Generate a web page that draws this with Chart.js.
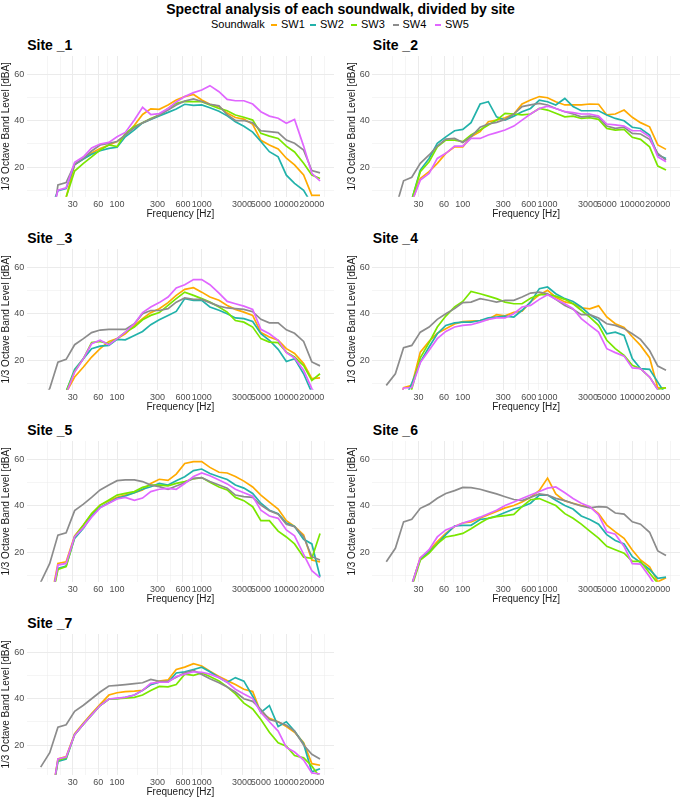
<!DOCTYPE html>
<html>
<head>
<meta charset="utf-8">
<script src="https://cdn.jsdelivr.net/npm/chart.js@4/dist/chart.umd.min.js"></script>
<style>
  body { margin: 0; background: #fff; font-family: "Liberation Sans", Arial, sans-serif; }
  #page { position: relative; width: 681px; height: 799px; overflow: hidden; background: #fff; }
  .title { position: absolute; left: 0; top: 1px; width: 681px; text-align: center; font-weight: bold; font-size: 14px; line-height: 16px; color: #000; }
  .leg { position: absolute; top: 18px; font-size: 11px; line-height: 13px; color: #000; white-space: nowrap; }
  .key { position: absolute; top: 24px; width: 6px; height: 2px; }
  .strip { position: absolute; font-weight: bold; font-size: 14px; line-height: 16px; color: #000; white-space: nowrap; }
  canvas { position: absolute; }
</style>
</head>
<body>
<div id="page">
  <div class="title">Spectral analysis of each soundwalk, divided by site</div>
</div>
<script>
// 1/3 octave band centre frequencies [Hz]
const freqs = [12.5, 16, 20, 25, 31.5, 40, 50, 63, 80, 100, 125, 160, 200, 250, 315, 400, 500,
  630, 800, 1000, 1250, 1600, 2000, 2500, 3150, 4000, 5000, 6300, 8000, 10000, 12500, 16000, 20000, 25000];

const seriesNames = ['SW1', 'SW2', 'SW3', 'SW4', 'SW5'];
const seriesColors = ['#FFAA00', '#22B2AA', '#7AE600', '#8C8C8C', '#E066FF'];

const xMajor = [30, 60, 100, 300, 600, 1000, 3000, 5000, 10000, 20000];
const xMinor = [15, 21.2, 42.4, 77.5, 173.2, 424.3, 774.6, 1732, 3873, 7071, 14142, 28284];
const yMajor = [20, 40, 60];
const yMinor = [10, 30, 50];

// band levels [dBA], one array per site and soundwalk
const s1_sw1 = [-10, -8, -2, 7, 21, 23.5, 26, 28, 29.5, 31, 33.5, 38, 42.6, 45, 44.8, 46.7, 48.8, 50.3, 51.2, 48.8, 47, 46, 43.2, 41.3, 40.6, 38.4, 31.5, 29.5, 27.8, 23.8, 20.9, 16.6, 7.8, 7.8];
const s1_sw2 = [-12, 1, 9.8, 10.8, 21.1, 23.5, 25.5, 27, 28, 28.5, 33, 36, 39, 40.5, 42, 43.5, 45, 47, 46.5, 46.7, 45.5, 44, 42, 39.5, 37.5, 35, 31, 26.6, 24.4, 16.5, 13, 10, 4, 0];
const s1_sw3 = [-15, -10, -3, 7, 18.3, 21.6, 24.4, 27.3, 29.5, 28.8, 34.5, 37.4, 39, 40.9, 42.4, 45.2, 47.4, 48.2, 48.1, 48.1, 46.7, 45.2, 44.2, 42.4, 41.4, 40.2, 34.5, 33.3, 32.3, 29, 26.5, 21.6, 16.6, 15.1];
const s1_sw4 = [-18, -13, 12.3, 13.3, 21.3, 23.7, 26.9, 29.5, 30.2, 31, 33.8, 36.9, 39, 40.6, 42.4, 44.5, 46.7, 48.4, 49.3, 48.2, 47, 46.3, 42.5, 40, 40, 39, 35.6, 35.2, 34.8, 31.6, 30.2, 27.3, 18.5, 17.5];
const s1_sw5 = [-15, -5, 10.1, 11.1, 22, 24.4, 28.2, 29.9, 30.6, 33, 34.9, 40.2, 45.7, 42.6, 43, 45.2, 48, 50.3, 52, 53.1, 55, 52.4, 49.1, 48.5, 48.5, 47.1, 43.8, 41.9, 41, 38.8, 40.5, 29, 17.3, 14];

const s2_sw1 = [-15, -10, -3, 5, 15.1, 18, 21.6, 25.9, 28.7, 28.7, 33, 35.2, 39.5, 40.2, 41.2, 42.8, 47.1, 48.8, 50.3, 49.8, 48.1, 46.7, 46.7, 46.7, 47.1, 47, 42.4, 42.8, 44.5, 41.4, 39.1, 37.3, 29.5, 27.6];
const s2_sw2 = [-15, -8, -2, 6, 18.7, 23.7, 30.2, 33, 35.6, 36.2, 39.1, 47.1, 48.1, 41.6, 40.2, 41.9, 43.8, 45.2, 48.8, 48.1, 46.7, 49.5, 46, 44.2, 44.2, 44.2, 42.4, 40.9, 39.9, 37.1, 36.6, 33.8, 25.2, 23.7];
const s2_sw3 = [-15, -8, -2, 6, 18, 22.3, 28.7, 31.6, 31.6, 30.9, 33.8, 35.9, 38.1, 40.2, 43.1, 42.8, 42.4, 42.8, 45.2, 44.5, 43.1, 41.6, 41.9, 40.9, 41.2, 40.5, 36.6, 35.9, 36.2, 32.8, 31.9, 28.7, 20.4, 18.7];
const s2_sw4 = [-10, 2, 14.1, 15.6, 21.6, 25.2, 29, 32, 32.3, 30.6, 33, 37.1, 38.5, 39.2, 40.5, 42.8, 46, 46.7, 47.4, 46.7, 45.2, 43.8, 42.8, 41.6, 41.9, 41.4, 37.6, 36.6, 37.1, 34.5, 34.2, 31.9, 25.9, 23];
const s2_sw5 = [-15, -8, -2, 5, 14.4, 17.3, 23.7, 25.9, 29, 29, 32.3, 32.3, 33.8, 34.8, 35.9, 37.6, 40.2, 42.8, 45.2, 46.2, 45.2, 43.8, 43.4, 42.8, 42.8, 41.9, 38.5, 38.1, 37.6, 35.6, 35.6, 33, 24.4, 22.3];

const s3_sw1 = [-15, -8, -2, 6, 12.7, 17, 21.3, 24.9, 28, 29.2, 31.3, 34.9, 37.8, 40.4, 42.1, 44.7, 47.8, 50.4, 51.1, 49.2, 47.1, 45.7, 43.5, 41.8, 40.6, 39.2, 31.8, 29.9, 28.5, 24.9, 22.8, 18.5, 12, 12.3];
const s3_sw2 = [-15, -8, -2, 6.5, 16, 20.6, 24.9, 26, 26.3, 28.9, 28.7, 30.6, 32.3, 35.2, 37.3, 39.2, 40.9, 46.4, 45.7, 45.7, 42.8, 41.4, 39.9, 38.1, 37.8, 36.6, 31.3, 28.5, 24.6, 19.4, 20.6, 14.1, 6, 3];
const s3_sw3 = [-15, -8, -2, 6.5, 15.1, 20.6, 27.5, 28, 27, 29.2, 32, 34.2, 37.3, 39.2, 40.4, 43.5, 46.4, 49.2, 47.8, 46.4, 44.9, 42.8, 40.6, 37, 36.3, 34.2, 29.2, 27.7, 27.5, 23.4, 21.3, 17.6, 11.2, 14.1];
const s3_sw4 = [0, 7.8, 19.1, 20.3, 26.6, 29.2, 31.8, 32.9, 33.2, 33.2, 33.2, 35.6, 39.9, 41.3, 41.3, 42.1, 44.9, 46.7, 46.1, 46.1, 44.7, 43.2, 42.4, 42.1, 41.8, 40.8, 37.5, 36, 36, 33, 31.5, 28, 19.2, 17.5];
const s3_sw5 = [-15, -8, -2, 5.5, 14.8, 20.6, 27, 28.5, 26.6, 29.2, 32, 35.6, 40.4, 42.8, 44.7, 47.1, 51, 52.4, 54.6, 54.6, 52.4, 48.8, 45.2, 44.2, 43.2, 41.8, 33.2, 31.3, 28.5, 23.2, 20.9, 15.6, 7.7, 3];

const s4_sw1 = [-5, -2, 8.1, 9.1, 23.4, 28, 31.5, 33.5, 35.5, 36.5, 36.7, 37, 37.5, 39.5, 39, 40.5, 41, 45, 48, 50, 47, 45, 44.2, 42.5, 42, 43.3, 38.5, 35.6, 34, 30, 26.3, 21, 8, 8];
const s4_sw2 = [-10, -5, 2, 10, 19.1, 25.6, 31.3, 34.9, 36, 36.3, 36.3, 37, 38.1, 38.5, 38.9, 38.5, 41.4, 44.9, 50.7, 51.4, 48.5, 46.4, 45.2, 42.8, 39.5, 37, 31.3, 32, 30.6, 20.6, 16.3, 16, 10.5, 5];
const s4_sw3 = [-15, -10, -3, 7.5, 21, 27.5, 34.2, 38.9, 42.8, 45.2, 49.5, 48.5, 47.5, 46.4, 44.9, 44.2, 44.2, 46.6, 48.1, 48.1, 47.5, 46.1, 44.2, 41.4, 38.5, 34.9, 28.5, 24.9, 22, 17.7, 16.3, 12.7, 7.4, 8.1];
const s4_sw4 = [9.1, 14.1, 25.3, 26.3, 32, 34.2, 37.5, 39.9, 42.1, 44.7, 44.9, 46.4, 45.7, 44.9, 45.7, 45.7, 47.1, 48.8, 49.2, 48.5, 46.1, 43.5, 41.8, 39.5, 39.5, 38.1, 35.6, 34.9, 33.5, 31.3, 28.9, 24.1, 17.4, 15.6];
const s4_sw5 = [-10, -3, 8, 8.2, 18.9, 24.2, 29.2, 32.3, 34.2, 34.9, 35.2, 36.3, 37.5, 38.1, 38.1, 39.9, 42.8, 43.5, 46.1, 48.1, 46.1, 44.2, 42.1, 37.8, 34.9, 32, 24.9, 23.2, 21.7, 16.6, 16.3, 12.7, 7.2, 4];

const s5_sw1 = [-10, -3, 15.1, 15.8, 26.9, 31.6, 36.3, 40.2, 42.1, 43.5, 44.5, 45.5, 46.7, 49.5, 51.3, 50.8, 53.5, 58.1, 58.9, 58.9, 56.4, 54.3, 54, 52.5, 50.5, 48, 44.5, 41.5, 38.5, 33.5, 31, 27.3, 16.6, 15.8];
const s5_sw2 = [-10, -3, 13, 14, 25.9, 30.2, 35.5, 39.2, 41.2, 43.1, 44.1, 45.5, 47, 48.1, 49.5, 48.8, 50.7, 52.4, 55, 55.7, 53.8, 52.4, 51.2, 48.8, 47.5, 45.2, 41, 38, 36.5, 32.5, 31, 25.5, 23.5, 9.4];
const s5_sw3 = [-12, -5, 12.5, 13.7, 26.6, 31.6, 36.6, 40.2, 42.4, 44.5, 45.2, 46, 47.8, 48.8, 48.8, 48.5, 49.5, 50.3, 51.5, 52, 50, 48, 46.7, 43.5, 42.1, 39.5, 33.5, 33.5, 29, 26.5, 23.5, 17.8, 17.3, 28];
const s5_sw4 = [7, 15.1, 27.3, 28.3, 37.8, 40.6, 43.5, 46.7, 48.8, 50.7, 51, 51, 50.3, 48.8, 48.1, 47, 48.4, 49.8, 51.7, 52, 50.3, 48.8, 47.4, 44.5, 43.8, 43.5, 40.2, 37.8, 36.3, 32, 30.9, 26.6, 18, 16.6];
const s5_sw5 = [-12, -5, 14.4, 15.1, 26.6, 30.5, 35, 39, 41, 42.8, 43.5, 42.2, 43.2, 46, 47, 47.4, 47, 49.5, 52.5, 54, 52.8, 51, 49.3, 47, 45.5, 44, 38, 35.5, 34.5, 29.5, 27, 19, 12, 9];

const s6_sw1 = [-15, -10, -5, 6, 17.5, 20.5, 24.5, 28, 31, 32.5, 33, 34.5, 36, 37.5, 39, 40, 41.5, 43.5, 46.5, 51.8, 45, 42, 41, 40, 39.5, 36.5, 31.6, 28.7, 25.9, 20.9, 16.6, 13.7, 7.2, 9];
const s6_sw2 = [-15, -10, -5, 6, 17, 20, 23.5, 27.5, 31.2, 31.5, 31.5, 34, 34.5, 35.5, 37, 38.5, 39.5, 41, 44.5, 44.5, 42.3, 40, 38.5, 35.5, 34, 32, 27.5, 25, 23.5, 18, 15.5, 12.5, 8.7, 9.2];
const s6_sw3 = [-15, -10, -5, 5, 16.5, 19.5, 23.5, 26.5, 27.2, 28, 30, 32.5, 34.5, 35.2, 35.7, 36.2, 39.5, 42.5, 43, 41.5, 40, 36.5, 34.5, 32, 29, 26, 22.5, 21, 19.5, 16, 16, 11, 6.5, 5];
const s6_sw4 = [15.8, 21.6, 33, 34.1, 38.8, 40.6, 43.1, 45.2, 46.4, 47.8, 47.7, 47, 46, 45, 43.8, 42.6, 42.1, 43.5, 45, 44.5, 43.1, 42.1, 40.9, 39.8, 39, 39.5, 39.3, 36.8, 36.3, 33, 32, 28.5, 20.5, 18.5];
const s6_sw5 = [-15, -10, -5, 6, 17.5, 21, 26.5, 29.5, 31, 32.5, 33.5, 35, 36.5, 38, 40, 41.5, 43, 44.5, 46, 47.5, 48, 45.5, 43, 41, 39.5, 36, 28.7, 27.7, 22.4, 15, 14.8, 9.4, 4, 2];

const s7_sw1 = [-15, -8, 14, 15, 24.9, 29.5, 33.5, 37.5, 41.5, 42.5, 43, 43.2, 43.5, 46, 47.5, 48, 52.5, 53.5, 55, 54, 51.7, 49.5, 47.7, 46, 44, 43, 34, 31.5, 30, 28, 25.5, 21, 12, 11.3];
const s7_sw2 = [-15, -8, 13, 14, 24.5, 29, 33, 37, 39.8, 40, 40.5, 41.5, 43.5, 46, 47, 47, 51, 51.5, 52.5, 53.5, 51.5, 49, 47, 49, 47.5, 41, 34, 37, 28, 30, 26, 20.5, 8.5, 9.8];
const s7_sw3 = [-15, -8, 13.5, 14.5, 24.5, 29, 33, 37, 39.8, 40, 40.2, 40.5, 41.5, 43.5, 45.2, 45, 46, 50.5, 50, 51, 49.5, 47.5, 45, 42, 38, 35.5, 31, 25.5, 21, 19.5, 15.5, 14.5, 11, 6];
const s7_sw4 = [10.5, 16.7, 27.7, 28.7, 34.5, 37.1, 39.9, 42.8, 45.4, 45.7, 46, 46.4, 46.8, 48.2, 47.4, 47.4, 49.2, 51.1, 52.1, 50.3, 48.5, 46.8, 45, 42.8, 39.9, 38.8, 35.3, 31, 29.9, 28.5, 26, 20, 16, 14];
const s7_sw5 = [-15, -8, 14, 14.8, 24.5, 29, 33, 37, 39.8, 40.2, 40.5, 41.5, 43.5, 46.5, 47, 47, 49.5, 50.5, 51.5, 51.3, 50.5, 49, 47, 44, 42, 40, 34, 30, 26, 19, 17, 13.5, 8, 7.5];

const siteNames = ['Site _1', 'Site _2', 'Site _3', 'Site _4', 'Site _5', 'Site _6', 'Site _7'];
const siteSeries = [
  [s1_sw1, s1_sw2, s1_sw3, s1_sw4, s1_sw5],
  [s2_sw1, s2_sw2, s2_sw3, s2_sw4, s2_sw5],
  [s3_sw1, s3_sw2, s3_sw3, s3_sw4, s3_sw5],
  [s4_sw1, s4_sw2, s4_sw3, s4_sw4, s4_sw5],
  [s5_sw1, s5_sw2, s5_sw3, s5_sw4, s5_sw5],
  [s6_sw1, s6_sw2, s6_sw3, s6_sw4, s6_sw5],
  [s7_sw1, s7_sw2, s7_sw3, s7_sw4, s7_sw5]
];

Chart.defaults.font.family = '"Liberation Sans", Arial, sans-serif';

const page = document.getElementById('page');

// legend row
const legendTitle = document.createElement('div');
legendTitle.className = 'leg';
legendTitle.style.left = '211px';
legendTitle.textContent = 'Soundwalk';
page.appendChild(legendTitle);
const keyLeft = [271, 310, 351, 392.5, 435];
seriesNames.forEach((name, k) => {
  const key = document.createElement('div');
  key.className = 'key';
  key.style.left = keyLeft[k] + 'px';
  key.style.background = seriesColors[k];
  page.appendChild(key);
  const lab = document.createElement('div');
  lab.className = 'leg';
  lab.style.left = (keyLeft[k] + 10) + 'px';
  lab.textContent = name;
  page.appendChild(lab);
});

// facet layout
const colLeft = [0, 346];
const axisW = [26.7, 26.3];
const rowTop = [56, 249, 441, 634];
const canvasW = 334, canvasH = 165, xAxisH = 24.3;

const xTicks = xMinor.concat(xMajor).sort((a, b) => a - b);
const yTicks = yMinor.concat(yMajor).sort((a, b) => a - b);

siteNames.forEach((name, s) => {
  const col = s % 2, row = Math.floor(s / 2);

  const strip = document.createElement('div');
  strip.className = 'strip';
  strip.style.left = (colLeft[col] + axisW[col] + 0.5) + 'px';
  strip.style.top = (rowTop[row] - 19.5) + 'px';
  strip.textContent = name;
  page.appendChild(strip);

  const canvas = document.createElement('canvas');
  canvas.width = canvasW;
  canvas.height = canvasH;
  canvas.style.left = colLeft[col] + 'px';
  canvas.style.top = rowTop[row] + 'px';
  page.appendChild(canvas);

  new Chart(canvas, {
    type: 'line',
    data: {
      datasets: siteSeries[s].map((vals, k) => ({
        label: seriesNames[k],
        data: freqs.map((f, i) => ({ x: f, y: vals[i] })),
        borderColor: seriesColors[k],
        borderWidth: 1.7,
        pointRadius: 0,
        tension: 0,
        fill: false,
        clip: 0,
        order: 5 - k
      }))
    },
    options: {
      responsive: false,
      animation: false,
      devicePixelRatio: 1,
      events: [],
      layout: { padding: 0, autoPadding: false },
      plugins: { legend: { display: false }, tooltip: { enabled: false }, title: { display: false } },
      scales: {
        x: {
          type: 'logarithmic',
          min: 8.549,
          max: 36560,
          bounds: 'data',
          afterBuildTicks: sc => { sc.ticks = xTicks.map(v => ({ value: v })); },
          afterFit: sc => { sc.height = xAxisH; sc.paddingLeft = 0; sc.paddingRight = 0; },
          ticks: {
            autoSkip: false, maxRotation: 0, minRotation: 0, padding: 2.5,
            color: '#4D4D4D', font: { size: 9 },
            callback: v => xMajor.includes(v) ? String(v) : ''
          },
          grid: {
            drawTicks: false, color: '#EBEBEB',
            lineWidth: c => (c.tick && xMajor.includes(c.tick.value)) ? 1 : 0.5
          },
          border: { display: false },
          title: { display: true, text: 'Frequency [Hz]', color: '#1A1A1A', font: { size: 10 }, padding: { top: 0, bottom: 1 } }
        },
        y: {
          type: 'linear',
          min: 7.25,
          max: 67.75,
          afterBuildTicks: sc => { sc.ticks = yTicks.map(v => ({ value: v })); },
          afterFit: sc => { sc.width = axisW[col]; sc.paddingTop = 0; sc.paddingBottom = 0; },
          ticks: {
            autoSkip: false, padding: 2.5,
            color: '#4D4D4D', font: { size: 9 },
            callback: v => yMajor.includes(v) ? String(v) : ''
          },
          grid: {
            drawTicks: false, color: '#EBEBEB',
            lineWidth: c => (c.tick && yMajor.includes(c.tick.value)) ? 1 : 0.5
          },
          border: { display: false },
          title: { display: true, text: '1/3 Octave Band Level [dBA]', color: '#1A1A1A', font: { size: 10 }, padding: { top: 0.7, bottom: 0 } }
        }
      }
    }
  });
});
</script>
</body>
</html>
